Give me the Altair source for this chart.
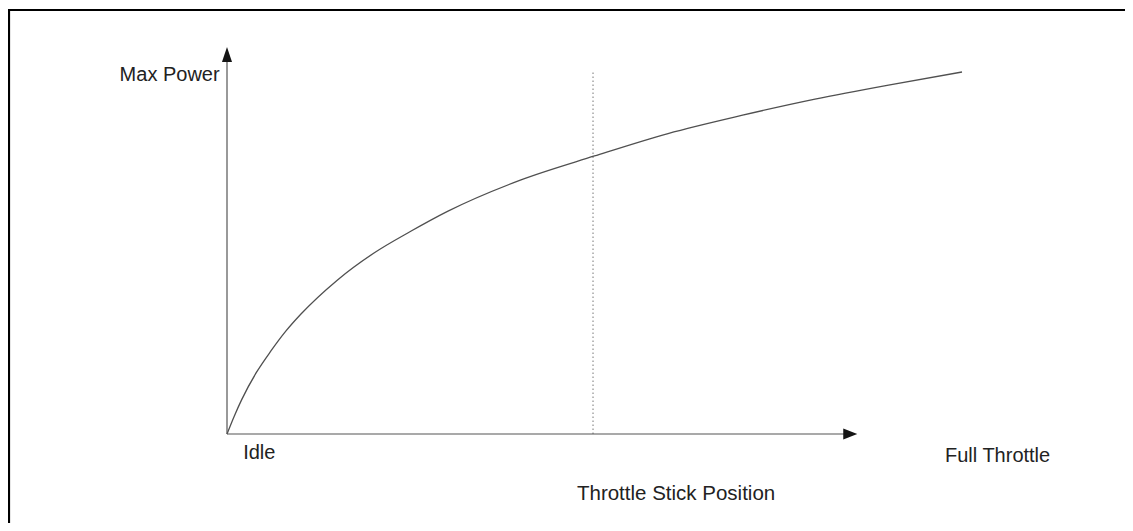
import altair as alt
import pandas as pd

# Curve: max power vs throttle stick position (both in % of full scale)
throttle = [0, 1, 2, 4, 6, 8, 10, 15, 20, 25, 30, 40, 50, 60, 70, 80, 90, 100]
power = [0, 5, 9.5, 17, 23, 28.4, 33, 42.5, 50, 56, 61.5, 70.2, 76.8, 83, 88, 92.5, 96.4, 100]

# Dotted reference (mid stick)
ref_x = [49.8]
ref_top = [100]

# Axis extents (arrow tips) in data units
x_axis_end = [84.5]
y_axis_end = [103.5]
x_arrow = [84.8]
y_arrow = [104.8]

# Labels
label_text = ["Max Power", "Idle", "Full Throttle", "Throttle Stick Position"]
label_x = [-1.0, 2.2, 112.0, 61.1]
label_y = [99.2, -5.3, -6.1, -16.6]
label_align = ["right", "left", "right", "center"]
label_size = [20, 20, 20, 20.5]

W, H = 1117, 515
xs = alt.Scale(domain=[0, 100], range=[219, 954], nice=False, zero=False)
ys = alt.Scale(domain=[0, 100], range=[426, 64], nice=False, zero=False)

curve_df = pd.DataFrame({"t": throttle, "p": power})
curve = alt.Chart(curve_df).mark_line(color="#505050", strokeWidth=1.3, interpolate="monotone").encode(
    x=alt.X("t:Q", scale=xs, axis=None),
    y=alt.Y("p:Q", scale=ys, axis=None),
)

ref_df = pd.DataFrame({"x": ref_x, "y0": [0], "y1": ref_top})
ref = alt.Chart(ref_df).mark_rule(color="#777777", strokeWidth=1, strokeDash=[1.5, 2.5]).encode(
    x=alt.X("x:Q", scale=xs, axis=None),
    y=alt.Y("y0:Q", scale=ys, axis=None),
    y2="y1:Q",
)

yaxis_df = pd.DataFrame({"x": [0], "y0": [0], "y1": y_axis_end})
yaxis = alt.Chart(yaxis_df).mark_rule(color="#555555", strokeWidth=1.2).encode(
    x=alt.X("x:Q", scale=xs, axis=None),
    y=alt.Y("y0:Q", scale=ys, axis=None),
    y2="y1:Q",
)
xaxis_df = pd.DataFrame({"y": [0], "x0": [0], "x1": x_axis_end})
xaxis = alt.Chart(xaxis_df).mark_rule(color="#555555", strokeWidth=1.2).encode(
    y=alt.Y("y:Q", scale=ys, axis=None),
    x=alt.X("x0:Q", scale=xs, axis=None),
    x2="x1:Q",
)

up_df = pd.DataFrame({"x": [0], "y": y_arrow})
up_head = alt.Chart(up_df).mark_point(
    shape="M0,-1L0.67,1L-0.67,1Z", filled=True, size=225, color="#151515", opacity=1
).encode(x=alt.X("x:Q", scale=xs, axis=None), y=alt.Y("y:Q", scale=ys, axis=None))

right_df = pd.DataFrame({"x": x_arrow, "y": [0]})
right_head = alt.Chart(right_df).mark_point(
    shape="M1,0L-1,0.79L-1,-0.79Z", filled=True, size=196, color="#151515", opacity=1
).encode(x=alt.X("x:Q", scale=xs, axis=None), y=alt.Y("y:Q", scale=ys, axis=None))

texts = []
for t, lx, ly, al, fs in zip(label_text, label_x, label_y, label_align, label_size):
    df = pd.DataFrame({"x": [lx], "y": [ly], "t": [t]})
    texts.append(
        alt.Chart(df).mark_text(
            font="Liberation Sans", fontSize=fs, color="#222222", align=al, baseline="middle"
        ).encode(
            x=alt.X("x:Q", scale=xs, axis=None),
            y=alt.Y("y:Q", scale=ys, axis=None),
            text="t:N",
        )
    )

# Frame (only top and left edges fall inside the picture)
frame_top = alt.Chart(pd.DataFrame({"a": [0]})).mark_rule(color="black", strokeWidth=2.2).encode(
    x=alt.value(0), x2=alt.value(W + 10), y=alt.value(2)
)
frame_left = alt.Chart(pd.DataFrame({"a": [0]})).mark_rule(color="black", strokeWidth=2.2).encode(
    x=alt.value(1), y=alt.value(1), y2=alt.value(H + 10)
)

chart = alt.layer(
    ref, curve, yaxis, xaxis, up_head, right_head, *texts, frame_top, frame_left
).properties(
    width=W, height=H, autosize=alt.AutoSizeParams(type="none"), padding=0, background="white"
).configure_view(stroke=None)

chart.save("out.html", embed_options={"renderer": "svg", "actions": False})
